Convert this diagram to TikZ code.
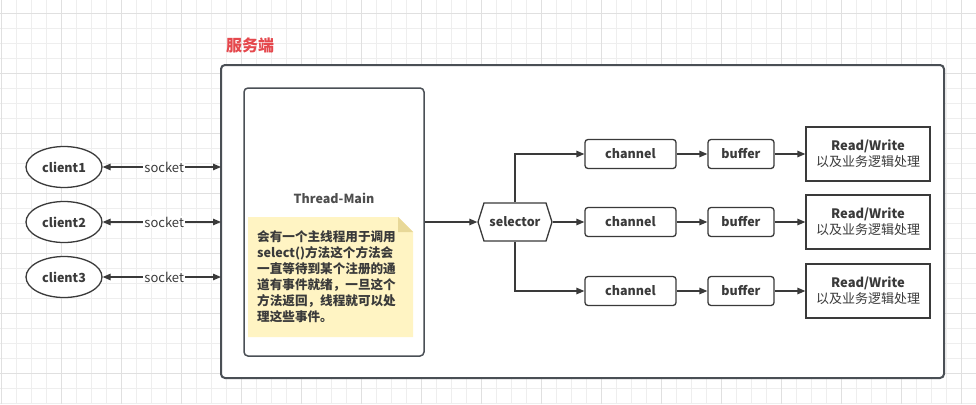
\documentclass[tikz,border=0pt]{standalone}
\usepackage{fontspec}
\setmainfont{Noto Sans CJK SC}
\usetikzlibrary{arrows.meta,shapes.symbols,shapes.geometric}
\definecolor{ln}{HTML}{3A3A3A}
\definecolor{bx}{HTML}{4A4F55}
\definecolor{ttl}{HTML}{E5484D}
\definecolor{notef}{HTML}{FFF4C3}
\definecolor{notek}{HTML}{E8D898}
\definecolor{gmin}{HTML}{EEEEEE}
\definecolor{gmaj}{HTML}{E0E0E0}
\begin{document}
\begin{tikzpicture}[x=1pt,y=-1pt,
  every node/.style={font=\fontsize{12}{14}\selectfont, text=ln},
  conn/.style={draw=ln, line width=1.3pt, -{Triangle[length=8pt,width=6.5pt]}},
  dconn/.style={draw=ln, line width=1.3pt, {Triangle[length=8pt,width=6.5pt]}-{Triangle[length=8pt,width=6.5pt]}},
  clientnode/.style={ellipse, draw=ln, line width=1.3pt, minimum width=76pt, minimum height=41pt, font=\fontsize{12.5}{14}\selectfont\bfseries, fill=white},
  rbox/.style={rectangle, rounded corners=3pt, draw=ln, line width=1.3pt, fill=white, font=\fontsize{12.5}{14}\selectfont\bfseries},
  rwbox/.style={rectangle, draw=ln, line width=1.3pt, fill=white, minimum width=124pt, minimum height=54pt, align=center, inner sep=0pt, font=\fontsize{13}{16}\selectfont},
  lbl/.style={fill=white, inner sep=1pt, font=\fontsize{13}{14}\selectfont}
]
\useasboundingbox (0,0) rectangle (976,404);
\fill[white] (0,0) rectangle (976,404);
% grid
\foreach \x in {1,16,...,976} \draw[gmin, line width=0.8pt] (\x,0) -- (\x,404);
\foreach \y in {13,28,...,404} \draw[gmin, line width=0.8pt] (0,\y) -- (976,\y);
\foreach \x in {1,61,...,976} \draw[gmaj, line width=0.8pt] (\x,0) -- (\x,404);
\foreach \y in {13,73,...,404} \draw[gmaj, line width=0.8pt] (0,\y) -- (976,\y);

% title
\node[text=ttl, font=\fontsize{16}{18}\selectfont\bfseries] (title) at (250,45) {服务端};
% server box
\node[rectangle, rounded corners=4pt, draw=bx, line width=2pt, fill=white, minimum width=723pt, minimum height=313pt] (srv) at (582.5,221.5) {};
% thread main
\node[rectangle, rounded corners=4pt, draw=bx, line width=1.5pt, fill=white, minimum width=180pt, minimum height=268pt] (tm) at (334,222) {};
\node[font=\fontsize{12.5}{14}\selectfont\bfseries, text=ln!90] (tmlabel) at (334,198) {Thread-Main};
% note
\fill[notef] (248,217) -- (398,217) -- (413,232) -- (413,337) -- (248,337) -- cycle;
\fill[notek] (398,217) -- (413,232) -- (398,232) -- cycle;
\node[anchor=north west, align=left, inner sep=0pt, font=\fontsize{12.6}{16}\selectfont\bfseries, text=ln] (note) at (257,230)
 {会有一个主线程用于调用\\select()方法这个方法会\\一直等待到某个注册的通\\道有事件就绪，一旦这个\\方法返回，线程就可以处\\理这些事件。};

% clients
\node[clientnode] (c1) at (64,167) {client1};
\node[clientnode] (c2) at (64,222) {client2};
\node[clientnode] (c3) at (64,277) {client3};
\coordinate (s1) at (221,167);
\coordinate (s2) at (221,222);
\coordinate (s3) at (221,277);
\draw[dconn] (c1.east) -- node[lbl, pos=0.52] (l1) {socket} (s1);
\draw[dconn] (c2.east) -- node[lbl, pos=0.52] (l2) {socket} (s2);
\draw[dconn] (c3.east) -- node[lbl, pos=0.52] (l3) {socket} (s3);

% selector
\node[signal, signal to=west and east, signal pointer angle=145, draw=ln, line width=1.3pt, fill=white, minimum width=74pt, minimum height=38pt, inner xsep=2pt, font=\fontsize{12.5}{14}\selectfont\bfseries] (sel) at (515,222) {selector};
\draw[conn] (tm.east) -- (sel.west);

% channels
\foreach \i/\y in {1/154,2/222,3/291} {
  \node[rbox, minimum width=91pt, minimum height=29pt] (ch\i) at (630.5,\y) {channel};
  \node[rbox, minimum width=66pt, minimum height=29pt] (bf\i) at (741,\y) {buffer};
  \node[rwbox] (rw\i) at (868,\y) {\textbf{Read/Write}\\以及业务逻辑处理};
  \draw[conn] (ch\i.east) -- (bf\i.west);
  \draw[conn] (bf\i.east) -- (rw\i.west);
}
\draw[conn] (sel.north) |- (ch1.west);
\draw[conn] (sel.east) -- (ch2.west);
\draw[conn] (sel.south) |- (ch3.west);
\end{tikzpicture}
\end{document}
